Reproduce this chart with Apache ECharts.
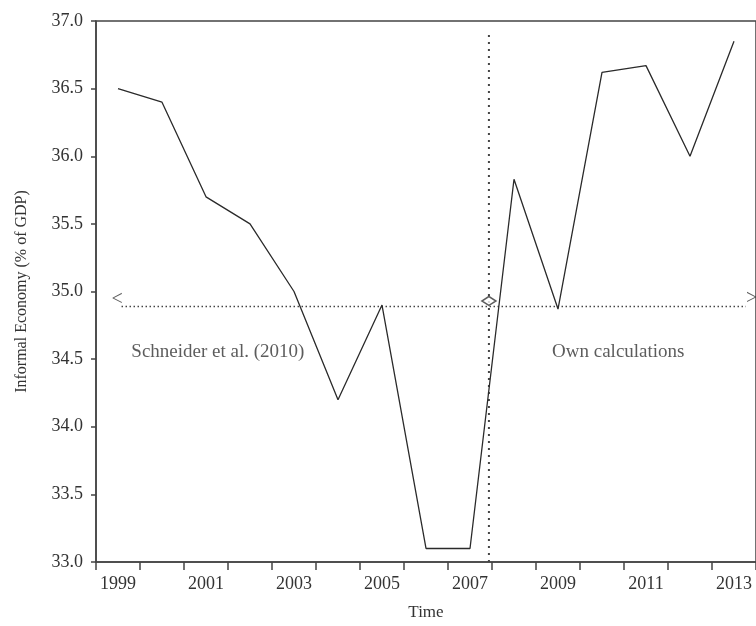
<!DOCTYPE html>
<html>
<head>
<meta charset="utf-8">
<script src="https://cdn.jsdelivr.net/npm/echarts@6/dist/echarts.min.js"></script>
<style>
html,body{margin:0;padding:0;background:#fff;}
#chart{width:756px;height:626px;}
</style>
</head>
<body>
<div id="chart"></div>
<script>
// Data
var years = ['1999','2000','2001','2002','2003','2004','2005','2006','2007','2008','2009','2010','2011','2012','2013'];
var informalEconomy = [36.5, 36.4, 35.7, 35.5, 35.0, 34.2, 34.9, 33.1, 33.1, 35.83, 34.87, 36.62, 36.67, 36.0, 36.85];
var yTicks = [33.0, 33.5, 34.0, 34.5, 35.0, 35.5, 36.0, 36.5, 37.0];

// Annotations (in year-index / value coordinates)
var splitIndex = 8.43;           // boundary between the two data sources
var splitTop = 36.9;
var rangeLevel = 34.89;
var rangeStart = 0.08;
var rangeEnd = 14.27;
var arrowMarks = [[-0.02, 34.94, '<'], [14.4, 34.95, '>']];
var splitMark = [[8.43, 34.93]];
var sourceLabels = [[2.27, 34.55, 'Schneider et al. (2010)'], [11.37, 34.55, 'Own calculations']];

var serif = '"Liberation Serif", "DejaVu Serif", serif';
var axisColor = '#444';
var textColor = '#333';

var chart = echarts.init(document.getElementById('chart'));
chart.setOption({
  animation: false,
  backgroundColor: '#fff',
  grid: {
    left: 96, top: 21, width: 662, height: 541,
    show: true, borderColor: axisColor, borderWidth: 1.5, backgroundColor: 'transparent'
  },
  xAxis: [{
    type: 'category',
    data: years,
    boundaryGap: true,
    name: 'Time',
    nameLocation: 'middle',
    nameGap: 42,
    nameTextStyle: {fontFamily: serif, fontSize: 17, color: textColor},
    axisLine: {show: true, onZero: false, lineStyle: {color: axisColor, width: 1.5}},
    axisTick: {show: true, interval: 0, length: 8, lineStyle: {color: axisColor, width: 1.5}},
    axisLabel: {interval: 1, margin: 13, fontFamily: serif, fontSize: 18, color: textColor},
    splitLine: {show: false}
  }, {
    type: 'value',
    min: -0.5, max: 14.5,
    show: false
  }],
  yAxis: {
    type: 'value',
    min: yTicks[0], max: yTicks[yTicks.length - 1], interval: 0.5,
    name: 'Informal Economy (% of GDP)',
    nameLocation: 'middle',
    nameGap: 66,
    nameRotate: 90,
    nameTextStyle: {fontFamily: serif, fontSize: 16, color: textColor},
    axisLine: {show: true, onZero: false, lineStyle: {color: axisColor, width: 1.5}},
    axisTick: {show: true, length: 5, lineStyle: {color: axisColor, width: 1.5}},
    axisLabel: {margin: 13, fontFamily: serif, fontSize: 18, color: textColor,
      formatter: function (v) { return v.toFixed(1); }},
    splitLine: {show: false}
  },
  series: [{
    type: 'line',
    data: informalEconomy,
    symbol: 'none',
    lineStyle: {color: '#2a2a2a', width: 1.3},
    z: 5
  }, {
    type: 'line',
    xAxisIndex: 1,
    data: [[splitIndex, yTicks[0]], [splitIndex, splitTop]],
    symbol: 'none',
    lineStyle: {color: axisColor, width: 2, type: [2, 5]},
    z: 3
  }, {
    type: 'line',
    xAxisIndex: 1,
    data: [[rangeStart, rangeLevel], [rangeEnd, rangeLevel]],
    symbol: 'none',
    lineStyle: {color: axisColor, width: 1.5, type: [1.5, 2.5]},
    z: 3
  }, {
    type: 'scatter',
    xAxisIndex: 1,
    data: splitMark,
    symbol: 'diamond',
    symbolSize: [14, 9],
    itemStyle: {color: '#fff', borderColor: '#333', borderWidth: 1.6},
    z: 4
  }, {
    type: 'scatter',
    xAxisIndex: 1,
    data: arrowMarks,
    symbolSize: 1,
    itemStyle: {color: 'transparent'},
    label: {show: true, position: 'inside', fontFamily: serif, fontSize: 20, color: textColor,
      formatter: function (p) { return p.value[2]; }},
    z: 4
  }, {
    type: 'scatter',
    xAxisIndex: 1,
    data: sourceLabels,
    symbolSize: 1,
    itemStyle: {color: 'transparent'},
    label: {show: true, position: 'inside', fontFamily: serif, fontSize: 19, color: textColor,
      formatter: function (p) { return p.value[2]; }},
    z: 4
  }]
});
</script>
</body>
</html>
